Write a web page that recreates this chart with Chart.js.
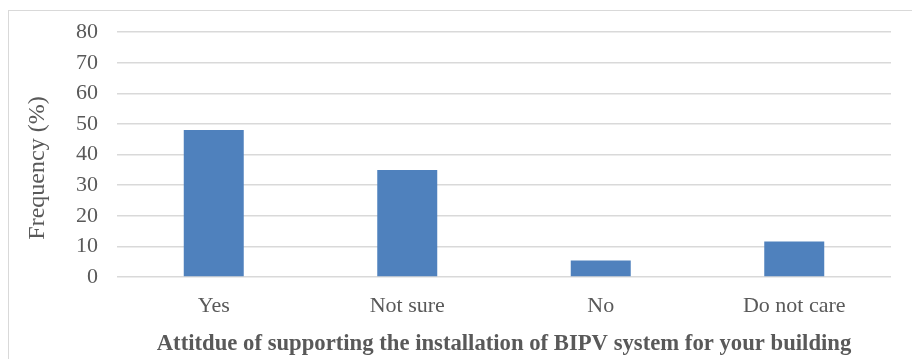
<!DOCTYPE html>
<html lang="en">
<head>
    <meta charset="UTF-8">
    <title>BIPV attitude</title>
    <script src="https://cdn.jsdelivr.net/npm/chart.js"></script>
    <style>
        body { margin: 0; background: #fff; }
        .wrap { position: relative; width: 912px; height: 359px; overflow: hidden; }
        .frame { position: absolute; left: 8px; top: 10px; width: 920px; height: 360px; border: 1.5px solid #d9d9d9; }
        canvas { position: absolute; left: 0; top: 0; }
    </style>
</head>
<body>
<div class="wrap">
    <div class="frame"></div>
    <canvas id="myChart" width="912" height="359"></canvas>
</div>
<script>
    const categories = ['Yes', 'Not sure', 'No', 'Do not care'];
    const frequency = [48, 35, 5.4, 11.6];
    const yTicks = [0, 10, 20, 30, 40, 50, 60, 70, 80];

    const xTitle = 'Attitdue of supporting the installation of BIPV system for your building';
    const yTitle = 'Frequency (%)';

    // y axis title is drawn by hand so it can sit a bit low, like the original
    const yTitlePlugin = {
        id: 'yTitle',
        afterDraw(chart) {
            const ctx = chart.ctx;
            ctx.save();
            ctx.translate(38, 168);
            ctx.rotate(-Math.PI / 2);
            ctx.font = '24px "Liberation Serif", "Times New Roman", serif';
            ctx.fillStyle = '#595959';
            ctx.textAlign = 'center';
            ctx.textBaseline = 'middle';
            ctx.fillText(yTitle, 0, 0);
            ctx.restore();
        }
    };

    const data = {
        labels: categories,
        datasets: [{
            data: frequency,
            backgroundColor: '#4f81bd',
            categoryPercentage: 1,
            barPercentage: 0.31
        }]
    };

    const config = {
        type: 'bar',
        data: data,
        options: {
            responsive: false,
            animation: false,
            layout: { padding: { left: 0, right: 21, top: 32, bottom: 0 } },
            plugins: { legend: { display: false }, tooltip: { enabled: false } },
            scales: {
                x: {
                    grid: { display: false },
                    border: { display: false },
                    ticks: {
                        color: '#595959',
                        padding: 8,
                        font: { family: '"Liberation Serif", serif', size: 22 }
                    },
                    title: {
                        display: true,
                        text: xTitle,
                        color: '#595959',
                        padding: { top: 4, bottom: 1 },
                        font: { family: '"Liberation Serif", serif', size: 22.7, weight: 'bold' }
                    },
                    afterFit(scale) { scale.height = 82; }
                },
                y: {
                    min: 0,
                    max: 80,
                    afterBuildTicks(scale) { scale.ticks = yTicks.map(v => ({ value: v })); },
                    grid: { color: '#d9d9d9', lineWidth: 1.5, drawTicks: false },
                    border: { display: false },
                    ticks: {
                        color: '#595959',
                        padding: 19,
                        font: { family: '"Liberation Serif", serif', size: 22 }
                    },
                    afterFit(scale) { scale.width = 117; }
                }
            }
        },
        plugins: [yTitlePlugin]
    };

    const myChart = new Chart(document.getElementById('myChart'), config);
</script>
</body>
</html>
